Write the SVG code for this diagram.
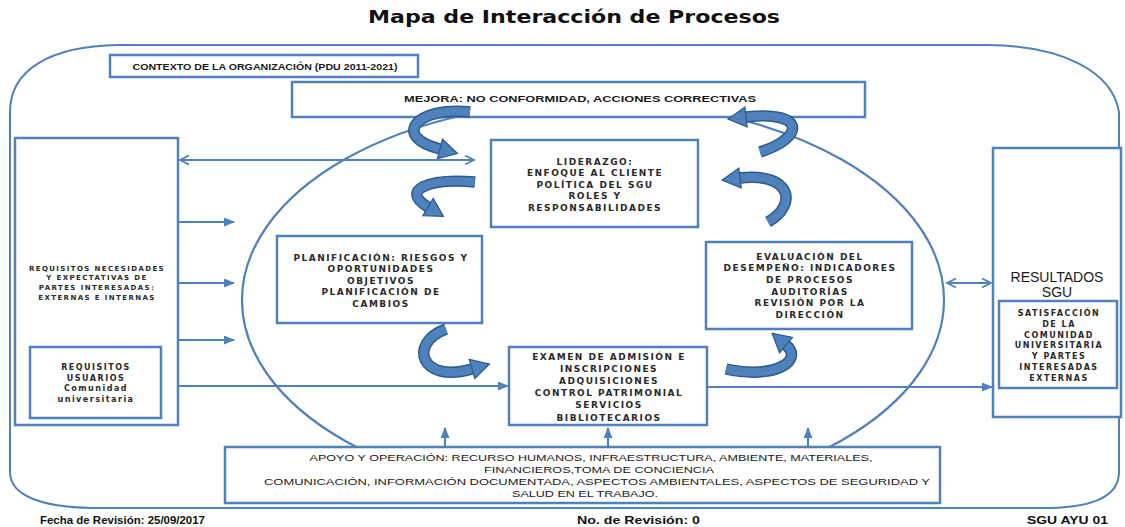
<svg xmlns="http://www.w3.org/2000/svg" width="1125" height="527" viewBox="0 0 1125 527">
<style>
.bg{fill:#fff}
.outer{fill:none;stroke:#4F81BD;stroke-width:2}
.ell{fill:none;stroke:#4F81BD;stroke-width:2.2}
.bx{fill:#fff;stroke:#4F81BD;stroke-width:2.5}
.ln{fill:none;stroke:#4F81BD;stroke-width:2.2}
.cu{fill:none;stroke:#2E5C8A;stroke-width:11.5}
.cf{fill:none;stroke:#4F81BD;stroke-width:8.5}
.t9{font-family:"DejaVu Sans",sans-serif;font-weight:bold;font-size:9px;letter-spacing:1.5px;fill:#2a2a2a;text-anchor:middle}
.t8{font-family:"DejaVu Sans",sans-serif;font-weight:bold;font-size:8px;letter-spacing:1.5px;fill:#2a2a2a;text-anchor:middle}
.t7{font-family:"DejaVu Sans",sans-serif;font-weight:bold;font-size:7px;letter-spacing:1.4px;fill:#2a2a2a;text-anchor:middle}
.tc{font-family:"Liberation Sans",Arial,sans-serif;font-size:9.5px;fill:#1a1a1a;text-anchor:middle}
.tr{font-family:"Liberation Sans",Arial,sans-serif;font-size:14px;fill:#1a1a1a;text-anchor:middle}
.ft{font-family:"Liberation Sans Narrow","Liberation Sans",Arial,sans-serif;font-weight:bold;font-size:11px;fill:#111}
.ttl{font-family:"DejaVu Sans",Verdana,sans-serif;font-weight:bold;font-size:18px;fill:#111;text-anchor:middle}
</style>
<defs>
<marker id="tri" markerUnits="userSpaceOnUse" viewBox="0 0 11 9" markerWidth="11" markerHeight="9" refX="10" refY="4.5" orient="auto"><path d="M0,0 L11,4.5 L0,9 Z" fill="#4F81BD"/></marker>
<marker id="chev" markerUnits="userSpaceOnUse" viewBox="-1 -1 12 11" markerWidth="12" markerHeight="11" refX="9" refY="4.5" orient="auto-start-reverse"><path d="M0,0 L9,4.5 L0,9" fill="none" stroke="#4F81BD" stroke-width="1.8"/></marker>
<marker id="cah" markerUnits="userSpaceOnUse" viewBox="-2 -12 22 24" markerWidth="22" markerHeight="24" refX="0" refY="0" orient="auto"><path d="M0,-10 L18,0 L0,10 Z" fill="#4F81BD" stroke="#2E5C8A" stroke-width="1.3"/></marker>
</defs>
<rect class="bg" x="0" y="0" width="1125" height="527"/>
<text class="ttl" x="574" y="23" textLength="412" lengthAdjust="spacingAndGlyphs">Mapa de Interacción de Procesos</text>
<path class="outer" d="M10,112 C10,70 50,46 118,45 L988,45 C1060,46 1112,70 1119,112 L1119,472 C1119,495 1095,507 1050,508 L92,508 C40,507 10,495 10,472 Z"/>
<ellipse class="ell" cx="593" cy="300" rx="351" ry="199"/>

<g id="connectors">
<path class="ln" d="M180,160 H474" marker-start="url(#chev)" marker-end="url(#chev)"/>
<path class="ln" d="M178,222 H234" marker-end="url(#tri)"/>
<path class="ln" d="M178,283 H234" marker-end="url(#tri)"/>
<path class="ln" d="M178,340 H234" marker-end="url(#tri)"/>
<path class="ln" d="M178,386 H508" marker-end="url(#tri)"/>
<path class="ln" d="M707,387 H992" marker-end="url(#tri)"/>
<path class="ln" d="M947,283 H991" marker-start="url(#chev)" marker-end="url(#chev)"/>
<path class="ln" d="M445,447 V428" marker-end="url(#tri)"/>
<path class="ln" d="M608,447 V428" marker-end="url(#tri)"/>
<path class="ln" d="M808,447 V428" marker-end="url(#tri)"/>
</g>

<g id="contexto">
<rect class="bx" x="110" y="55" width="308" height="22"/>
<text class="tc" x="265" y="69.5" font-size="7.5" font-weight="bold" textLength="265" lengthAdjust="spacingAndGlyphs">CONTEXTO DE LA ORGANIZACIÓN (PDU 2011-2021)</text>
</g>
<g id="mejora">
<rect class="bx" x="292" y="82" width="573" height="35"/>
<text class="tc" x="580" y="101.5" font-weight="bold" textLength="352" lengthAdjust="spacingAndGlyphs">MEJORA: NO CONFORMIDAD, ACCIONES CORRECTIVAS</text>
</g>
<g id="requisitos">
<rect class="bx" x="15" y="138" width="163" height="287"/>
<text class="t7" x="97" y="270.6">REQUISITOS NECESIDADES</text>
<text class="t7" x="97" y="280.3">Y EXPECTATIVAS  DE</text>
<text class="t7" x="97" y="290">PARTES INTERESADAS:</text>
<text class="t7" x="97" y="299.5">EXTERNAS E INTERNAS</text>
</g>
<g id="usuarios">
<rect class="bx" x="30" y="347" width="131" height="71"/>
<text class="t8" x="96" y="370">REQUISITOS</text>
<text class="t8" x="96" y="380.5">USUARIOS</text>
<text class="t8" x="96" y="391">Comunidad</text>
<text class="t8" x="96" y="401.5">universitaria</text>
</g>
<g id="liderazgo">
<rect class="bx" x="491" y="140" width="207" height="87"/>
<text class="t9" x="595" y="164.5">LIDERAZGO:</text>
<text class="t9" x="595" y="176">ENFOQUE AL CLIENTE</text>
<text class="t9" x="595" y="187.5">POLÍTICA DEL SGU</text>
<text class="t9" x="595" y="199">ROLES Y</text>
<text class="t9" x="595" y="210.5">RESPONSABILIDADES</text>
</g>
<g id="planificacion">
<rect class="bx" x="277" y="236" width="205" height="87"/>
<text class="t9" x="381" y="260.5">PLANIFICACIÓN: RIESGOS Y</text>
<text class="t9" x="381" y="272">OPORTUNIDADES</text>
<text class="t9" x="381" y="283.5">OBJETIVOS</text>
<text class="t9" x="381" y="295">PLANIFICACIÓN DE</text>
<text class="t9" x="381" y="306.5">CAMBIOS</text>
</g>
<g id="evaluacion">
<rect class="bx" x="706" y="242" width="206" height="87"/>
<text class="t9" x="810" y="259.5">EVALUACIÓN DEL</text>
<text class="t9" x="810" y="271.2">DESEMPEÑO: INDICADORES</text>
<text class="t9" x="810" y="282.9">DE PROCESOS</text>
<text class="t9" x="810" y="294.6">AUDITORÍAS</text>
<text class="t9" x="810" y="306.3">REVISIÓN POR LA</text>
<text class="t9" x="810" y="318">DIRECCIÓN</text>
</g>
<g id="operacion">
<rect class="bx" x="509" y="347" width="198" height="78"/>
<text class="t9" x="609" y="359.5">EXAMEN DE ADMISIÓN E</text>
<text class="t9" x="609" y="371.7">INSCRIPCIONES</text>
<text class="t9" x="609" y="383.9">ADQUISICIONES</text>
<text class="t9" x="609" y="396.1">CONTROL PATRIMONIAL</text>
<text class="t9" x="609" y="408.3">SERVICIOS</text>
<text class="t9" x="609" y="420.5">BIBLIOTECARIOS</text>
</g>
<g id="resultados">
<rect class="bx" x="993" y="148" width="128" height="269"/>
<text class="tr" x="1057" y="282">RESULTADOS</text>
<text class="tr" x="1057" y="297">SGU</text>
</g>
<g id="satisfaccion">
<rect class="bx" x="999" y="301" width="118" height="87"/>
<text class="t8" x="1059" y="316">SATISFACCIÓN</text>
<text class="t8" x="1059" y="326.8">DE LA</text>
<text class="t8" x="1059" y="337.6">COMUNIDAD</text>
<text class="t8" x="1059" y="348.4">UNIVERSITARIA</text>
<text class="t8" x="1059" y="359.2">Y PARTES</text>
<text class="t8" x="1059" y="370">INTERESADAS</text>
<text class="t8" x="1059" y="380.8">EXTERNAS</text>
</g>
<g id="apoyo">
<rect class="bx" x="225" y="447" width="715" height="56"/>
<text class="tc" x="591" y="460.5" textLength="563" lengthAdjust="spacingAndGlyphs">APOYO Y OPERACIÓN: RECURSO HUMANOS, INFRAESTRUCTURA, AMBIENTE, MATERIALES,</text>
<text class="tc" x="599" y="472.5" textLength="230" lengthAdjust="spacingAndGlyphs">FINANCIEROS,TOMA DE CONCIENCIA</text>
<text class="tc" x="597" y="484.5" textLength="666" lengthAdjust="spacingAndGlyphs">COMUNICACIÓN, INFORMACIÓN DOCUMENTADA, ASPECTOS AMBIENTALES, ASPECTOS DE SEGURIDAD Y</text>
<text class="tc" x="585" y="497" textLength="146" lengthAdjust="spacingAndGlyphs">SALUD EN EL TRABAJO.</text>
</g>

<g id="ciclo">
<path class="cu" d="M470,112 C418,106 390,136 440,149"/>
<path class="cf" d="M470,112 C418,106 390,136 440,149" marker-end="url(#cah)"/>
<path class="cu" d="M475,182 C428,178 400,190 428,207"/>
<path class="cf" d="M475,182 C428,178 400,190 428,207" marker-end="url(#cah)"/>
<path class="cu" d="M760,152 C805,138 806,110 746,117"/>
<path class="cf" d="M760,152 C805,138 806,110 746,117" marker-end="url(#cah)"/>
<path class="cu" d="M768,222 C798,205 792,172 740,178"/>
<path class="cf" d="M768,222 C798,205 792,172 740,178" marker-end="url(#cah)"/>
<path class="cu" d="M446,329 C408,343 420,384 472,369"/>
<path class="cf" d="M446,329 C408,343 420,384 472,369" marker-end="url(#cah)"/>
<path class="cu" d="M726,369 C776,380 804,360 786,345"/>
<path class="cf" d="M726,369 C776,380 804,360 786,345" marker-end="url(#cah)"/>
</g>

<g id="pie">
<text class="ft" x="40" y="524" textLength="165" lengthAdjust="spacingAndGlyphs">Fecha de Revisión: 25/09/2017</text>
<text class="ft" x="577" y="524" textLength="123" lengthAdjust="spacingAndGlyphs">No. de Revisión: 0</text>
<text class="ft" x="1027" y="524" textLength="81" lengthAdjust="spacingAndGlyphs">SGU AYU 01</text>
</g>
</svg>
